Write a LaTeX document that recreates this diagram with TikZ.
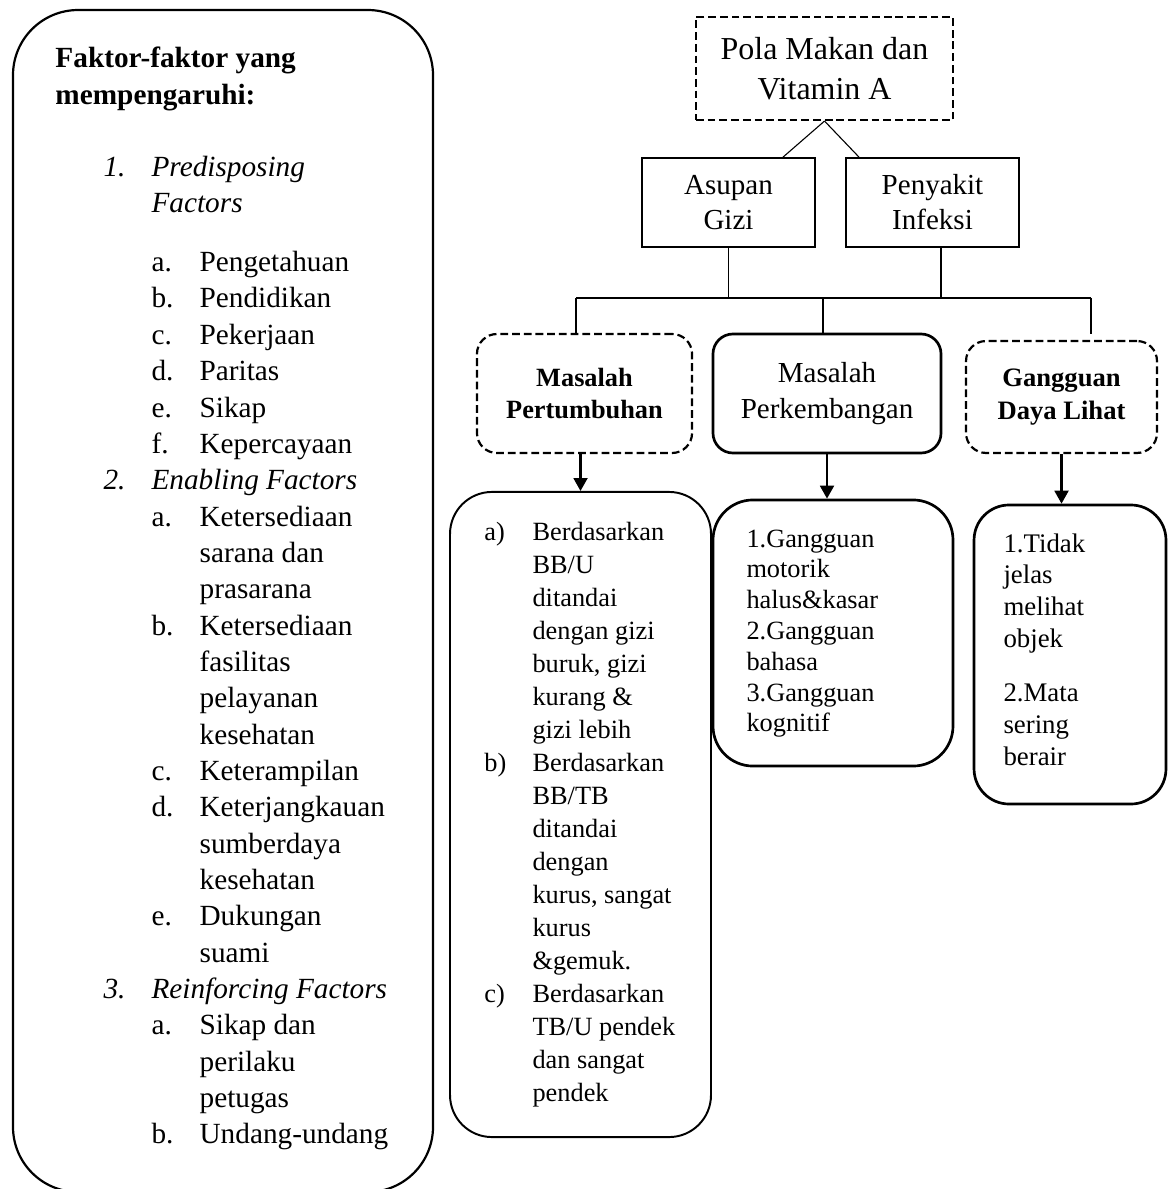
\documentclass[tikz,border=0pt]{standalone}
\usepackage{fontspec}
\setmainfont{Liberation Serif}
\usepackage{tikz}
\usetikzlibrary{calc, arrows.meta}

\newcommand{\lvlnum}[2]{\hspace*{19.7pt}\makebox[19.7pt][l]{#1}#2}
\newcommand{\lvlitem}[2]{\hspace*{39.4pt}\makebox[19.7pt][l]{#1}#2}
\newcommand{\listlabel}[2]{\makebox[19.7pt][l]{#1}#2}

\begin{document}
\begin{tikzpicture}[x=0.41pt, y=-0.41pt, >={Triangle[width=5.7pt, length=5.3pt]},
    thinline/.style={line width=0.45pt},
    arrowline/.style={line width=0.9pt, ->},
    plainbox/.style={draw, line width=0.7pt, align=center, inner sep=0pt},
    dashbox/.style={draw, line width=0.9pt, dash pattern=on 3.2pt off 1.6pt, align=center, inner sep=0pt},
    roundbox/.style={draw, line width=1.1pt, rounded corners=8.2pt, align=center, inner sep=0pt},
    dashround/.style={dashbox, rounded corners=8.2pt},
    listbox/.style={draw, line width=1pt, inner sep=0pt},
    listtext/.style={anchor=base west, inner sep=0pt}]
    \useasboundingbox (0,0) rectangle (1168,1189);

    % Coordinates
    \coordinate (F) at (223,601);
    \coordinate (P) at (824.5,68.5);
    \coordinate (G) at (728.5,202.5);
    \coordinate (I) at (932.5,202.5);
    \coordinate (MP) at (584.5,393.5);
    \coordinate (MK) at (827,393.5);
    \coordinate (GL) at (1061.5,397);
    \coordinate (LA) at (580.5,814.5);
    \coordinate (LB) at (833,633);
    \coordinate (LC) at (1070,654.5);
    \coordinate (busL) at (576,298);
    \coordinate (busM) at (823,298);
    \coordinate (busR) at (1091,298);
    \coordinate (endR) at (1091,334);

    % Factors
    \node[listbox, line width=0.9pt, rounded corners=26.7pt, minimum width=172.2pt, minimum height=484.6pt] (factors) at (F) {};
    % Text
    \node[listtext] (factortext) at (55,68) {\begin{minipage}[t]{165pt}\fontsize{12}{14.9}\selectfont
        \textbf{Faktor-faktor yang}\\
        \textbf{mempengaruhi:}\\[14.6pt]
        \lvlnum{\textit{1.}}{\textit{Predisposing}}\\
        \lvlnum{}{\textit{Factors}}\\[9.3pt]
        \lvlitem{a.}{Pengetahuan}\\
        \lvlitem{b.}{Pendidikan}\\
        \lvlitem{c.}{Pekerjaan}\\
        \lvlitem{d.}{Paritas}\\
        \lvlitem{e.}{Sikap}\\
        \lvlitem{f.}{Kepercayaan}\\
        \lvlnum{\textit{2.}}{\textit{Enabling Factors}}\\
        \lvlitem{a.}{Ketersediaan}\\
        \lvlitem{}{sarana dan}\\
        \lvlitem{}{prasarana}\\
        \lvlitem{b.}{Ketersediaan}\\
        \lvlitem{}{fasilitas}\\
        \lvlitem{}{pelayanan}\\
        \lvlitem{}{kesehatan}\\
        \lvlitem{c.}{Keterampilan}\\
        \lvlitem{d.}{Keterjangkauan}\\
        \lvlitem{}{sumberdaya}\\
        \lvlitem{}{kesehatan}\\
        \lvlitem{e.}{Dukungan}\\
        \lvlitem{}{suami}\\
        \lvlnum{\textit{3.}}{\textit{Reinforcing Factors}}\\
        \lvlitem{a.}{Sikap dan}\\
        \lvlitem{}{perilaku}\\
        \lvlitem{}{petugas}\\
        \lvlitem{b.}{Undang-undang}
    \end{minipage}};

    % Top
    \node[dashbox, minimum width=105.4pt, minimum height=42.2pt, font=\fontsize{13.1}{16.4}\selectfont] (pola) at (P) {Pola Makan dan\\Vitamin A};
    \node[plainbox, minimum width=70.9pt, minimum height=36.5pt, font=\fontsize{11.9}{14.4}\selectfont] (asupan) at (G) {Asupan\\Gizi};
    \node[plainbox, minimum width=70.9pt, minimum height=36.5pt, font=\fontsize{11.9}{14.4}\selectfont] (penyakit) at (I) {Penyakit\\Infeksi};

    % Problems
    \node[dashround, minimum width=88.2pt, minimum height=48.8pt, font=\fontsize{10.8}{13.1}\selectfont\bfseries] (pertumbuhan) at (MP) {Masalah\\Pertumbuhan};
    \node[roundbox, minimum width=93.5pt, minimum height=48.8pt, font=\fontsize{11.9}{14.8}\selectfont] (perkembangan) at (MK) {Masalah\\Perkembangan};
    \node[dashround, minimum width=78.3pt, minimum height=45.9pt, font=\fontsize{10.9}{13.5}\selectfont\bfseries] (gangguan) at (GL) {Gangguan\\Daya Lihat};

    % Lists
    \node[listbox, line width=0.8pt, rounded corners=17.2pt, minimum width=107pt, minimum height=264.5pt] (listA) at (LA) {};
    \node[listbox, line width=1.1pt, rounded corners=16.4pt, minimum width=98.4pt, minimum height=109.1pt] (listB) at (LB) {};
    \node[listbox, line width=1.1pt, rounded corners=14.4pt, minimum width=78.7pt, minimum height=122.6pt] (listC) at (LC) {};
    % Text
    \node[listtext] (textA) at (484,540) {\begin{minipage}[t]{105pt}\fontsize{10.8}{13.55}\selectfont
        \listlabel{a)}{Berdasarkan}\\
        \listlabel{}{BB/U}\\
        \listlabel{}{ditandai}\\
        \listlabel{}{dengan gizi}\\
        \listlabel{}{buruk, gizi}\\
        \listlabel{}{kurang \&}\\
        \listlabel{}{gizi lebih}\\
        \listlabel{b)}{Berdasarkan}\\
        \listlabel{}{BB/TB}\\
        \listlabel{}{ditandai}\\
        \listlabel{}{dengan}\\
        \listlabel{}{kurus, sangat}\\
        \listlabel{}{kurus}\\
        \listlabel{}{\&gemuk.}\\
        \listlabel{c)}{Berdasarkan}\\
        \listlabel{}{TB/U pendek}\\
        \listlabel{}{dan sangat}\\
        \listlabel{}{pendek}
    \end{minipage}};
    \node[listtext] (textB) at (746,547) {\begin{minipage}[t]{90pt}\fontsize{10.8}{12.63}\selectfont
        1.Gangguan\\
        motorik\\
        halus\&kasar\\
        2.Gangguan\\
        bahasa\\
        3.Gangguan\\
        kognitif
    \end{minipage}};
    \node[listtext] (textC) at (1003,552) {\begin{minipage}[t]{70pt}\fontsize{11}{13.1}\selectfont
        1.Tidak\\
        jelas\\
        melihat\\
        objek\\[9pt]
        2.Mata\\
        sering\\
        berair
    \end{minipage}};

    % Lines
    \draw[thinline] (pola.south) -- ($(asupan.north)+(54.5,0)$);
    \draw[thinline] (pola.south) -- ($(penyakit.north)+(-73.5,0)$);
    \draw[thinline] (asupan.south) -- (asupan.south |- busL);
    \draw[thinline] ($(penyakit.south)+(8.5,0)$) |- (busR);
    \draw[thinline] (busL) -- (busR);
    \draw[thinline] (busL) -- (busL |- pertumbuhan.north);
    \draw[thinline] (busM) -- (busM |- perkembangan.north);
    \draw[thinline] (busR) -- (endR);

    % Arrows
    \draw[arrowline] (pertumbuhan.south -| listA.north) -- (listA.north);
    \draw[arrowline] (perkembangan.south) -- (perkembangan.south |- listB.north);
    \draw[arrowline] (gangguan.south) -- (gangguan.south |- listC.north);
\end{tikzpicture}
\end{document}
